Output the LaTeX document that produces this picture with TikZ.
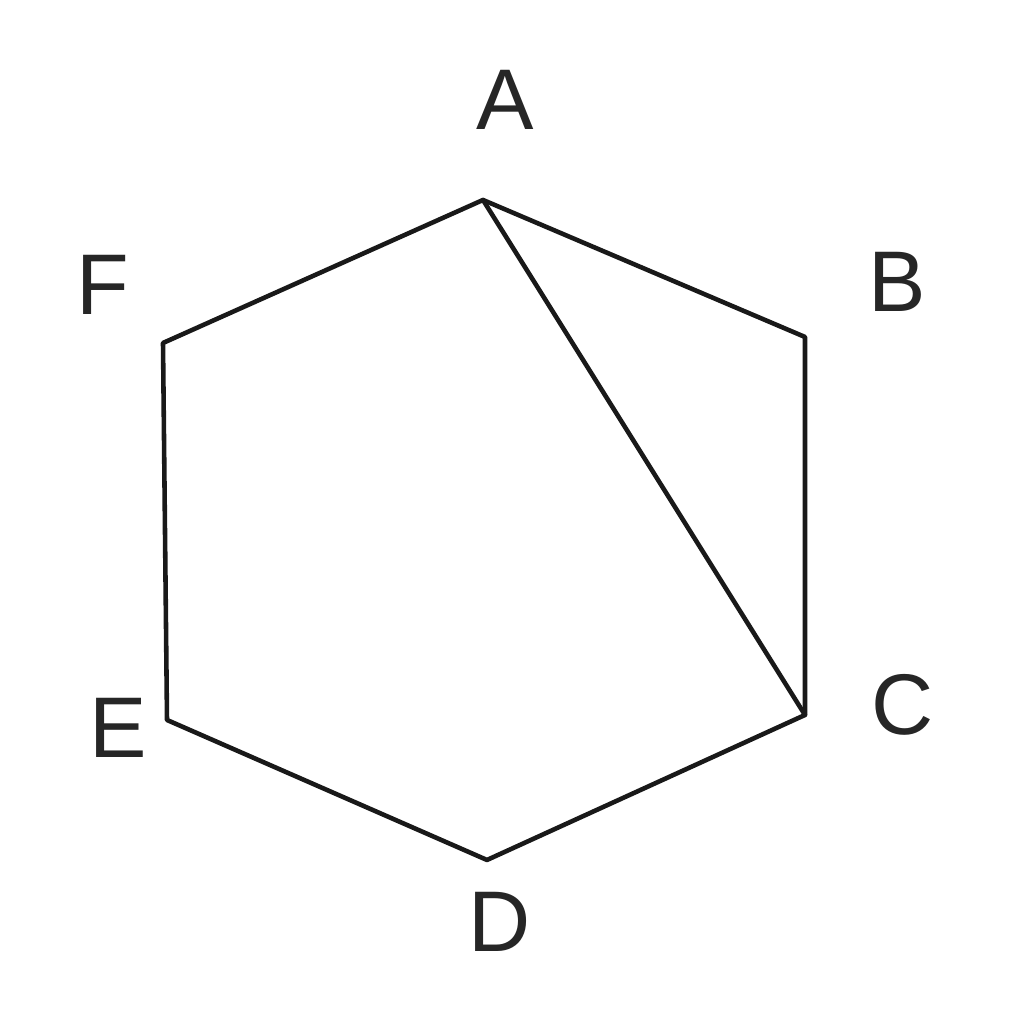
\documentclass[tikz,border=0pt]{standalone}
\usepackage{fontspec}
\setmainfont{Liberation Sans}
\usepackage{tikz}
\tikzstyle{vertex} = [inner sep=0pt, text=black!85, font=\fontsize{24.5}{28}\selectfont]
\tikzstyle{edge} = [line width=1.3pt, draw=black!90, line join=round, line cap=round]

\begin{document}
\begin{tikzpicture}
\useasboundingbox (0,0) rectangle (10.24,10.20);

\coordinate (A) at (4.83,8.20);
\coordinate (B) at (8.05,6.83);
\coordinate (C) at (8.05,3.05);
\coordinate (D) at (4.87,1.60);
\coordinate (E) at (1.67,3.00);
\coordinate (F) at (1.63,6.77);

\node (labelA) [vertex] at (5.05,9.20) {A};
\node (labelB) [vertex] at (8.97,7.38) {B};
\node (labelC) [vertex] at (9.03,3.15) {C};
\node (labelD) [vertex] at (5.00,0.98) {D};
\node (labelE) [vertex] at (1.18,2.92) {E};
\node (labelF) [vertex] at (1.03,7.35) {F};

\draw [edge] (A) -- (B) -- (C) -- (D) -- (E) -- (F) -- cycle;
\draw [edge] (A) -- (C);

\end{tikzpicture}
\end{document}
